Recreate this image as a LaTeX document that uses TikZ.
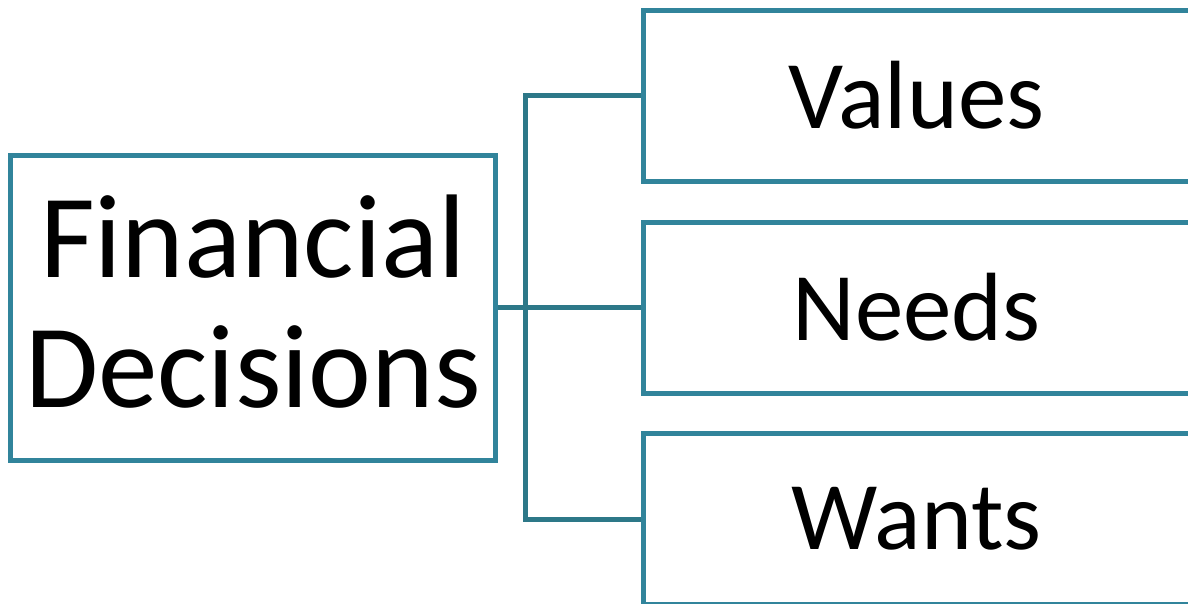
\documentclass[tikz,border=0pt]{standalone}
\usepackage{fontspec}
\setmainfont{Carlito}
\usepackage{tikz}
\usetikzlibrary{calc}

\definecolor{teal}{HTML}{31849B}
\definecolor{tealdark}{HTML}{2D7888}

\begin{document}
\begin{tikzpicture}[x=1pt, y=-1pt,
  box/.style={draw=teal, line width=5pt, inner sep=0pt},
  sub/.style={box, minimum width=547pt, minimum height=171pt,
    font=\fontsize{97}{100}\selectfont},
  link/.style={draw=tealdark, line width=5pt}]

\useasboundingbox (0, 0) rectangle (1188, 603);
\clip (0, 0) rectangle (1188, 603);

\node[box, minimum width=485pt, minimum height=305pt] (fin) at (253, 307.5) {};
\node[align=center, inner sep=0pt, font=\fontsize{119}{130}\selectfont]
  (fintext) at ([yshift=6pt]fin.center) {Financial\\Decisions};

\node[sub] (val) at (916.5, 95.5) {Values};
\node[sub] (needs) at (916.5, 307.5) {Needs};
\node[sub] (wants) at (916.5, 519) {Wants};

\coordinate (j) at (525, 307.5);

\draw[link] (fin.east) -- (needs.west);
\draw[link] (val.west) -| (j) |- (wants.west);

\end{tikzpicture}
\end{document}
